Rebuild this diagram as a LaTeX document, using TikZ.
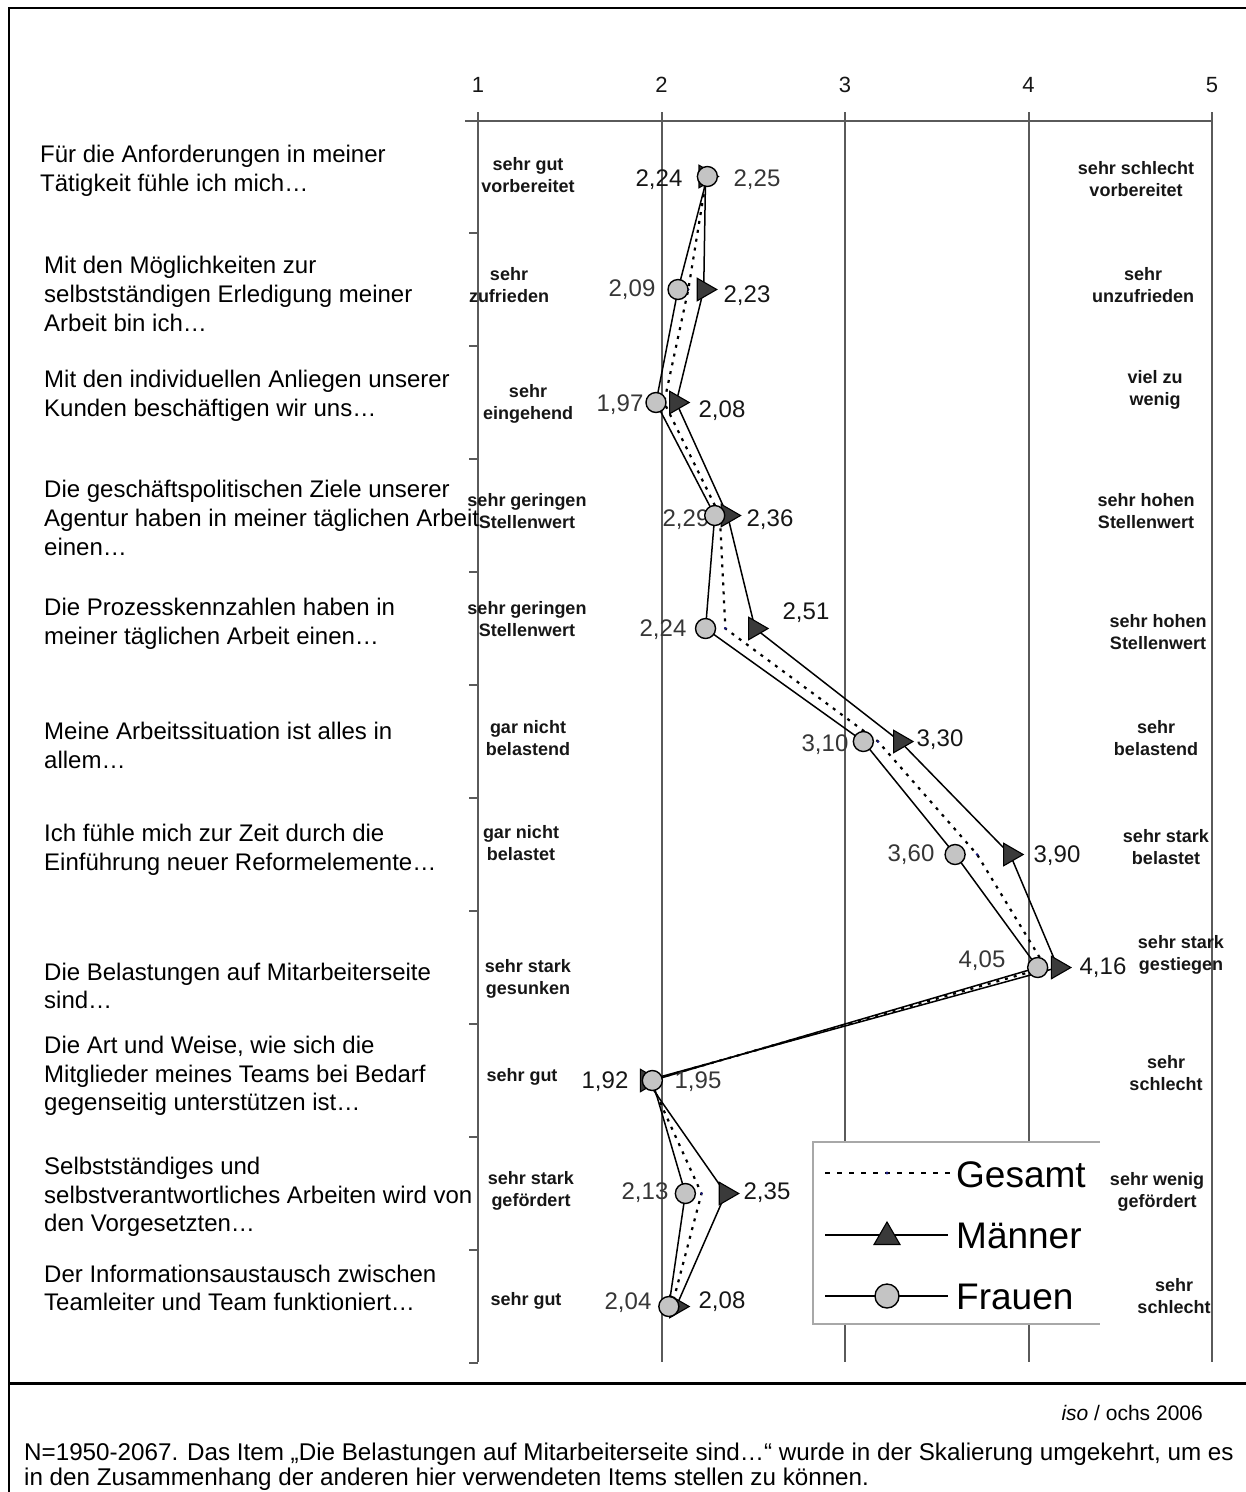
\documentclass[tikz,border=0pt]{standalone}
\usepackage{fontspec}
\setmainfont{Liberation Sans}
\usetikzlibrary{shapes.geometric}
\definecolor{gridgray}{HTML}{5A5A5A}
\definecolor{markfill}{HTML}{C4C4C4}
\definecolor{trifill}{HTML}{3A3A3A}
\definecolor{labdark}{HTML}{161616}
\definecolor{labgray}{HTML}{363636}
\definecolor{legendframe}{HTML}{A8A8A8}
\definecolor{dotblue}{HTML}{1A1A80}

\begin{document}
\begin{tikzpicture}[x=1pt,y=-1pt,
  item/.style={anchor=west, align=left, font=\fontsize{24}{28.7}\selectfont, inner sep=0pt},
  pole/.style={align=center, font=\fontsize{18}{22}\selectfont\bfseries, text=labdark, inner sep=0pt},
  mval/.style={font=\fontsize{24}{28}\selectfont, text=labdark, inner sep=0pt},
  fval/.style={font=\fontsize{24}{28}\selectfont, text=labgray, inner sep=0pt},
  axnum/.style={font=\fontsize{22}{24}\selectfont, text=labdark, inner sep=0pt},
  gridline/.style={draw=gridgray, line width=2pt},
  fline/.style={draw=black, line width=1.5pt, line join=round},
  mline/.style={draw=black, line width=1.5pt, line join=round},
  gline/.style={draw=black, line width=2.2pt, dash pattern=on 3pt off 6pt},
  legdash/.style={draw=black, line width=1.8pt, dash pattern=on 5pt off 7pt},
  fmark/.style={circle, draw=black, line width=1.4pt, fill=markfill, minimum size=20pt, inner sep=0pt},
  mmark/.style={regular polygon, regular polygon sides=3, shape border rotate=-90, draw=black,
                line width=1.1pt, fill=trifill, minimum size=26pt, inner sep=0pt},
  legtri/.style={regular polygon, regular polygon sides=3, draw=black,
                line width=1.1pt, fill=trifill, minimum size=30pt, inner sep=0pt},
  legcirc/.style={circle, draw=black, line width=1.4pt, fill=markfill, minimum size=24pt, inner sep=0pt},
  legtext/.style={anchor=west, font=\fontsize{37}{40}\selectfont, inner sep=0pt},
  foot/.style={font=\fontsize{21}{25}\selectfont, inner sep=0pt},
  note/.style={anchor=base west, font=\fontsize{24.2}{26}\selectfont, inner sep=0pt},
]
\useasboundingbox (0,0) rectangle (1246,1492);
\clip (0,0) rectangle (1246,1492);

% outer frame and footer separator
\draw[line width=2.2pt] (1260,8) -- (9,8) -- (9,1500);
\draw[line width=3pt] (9,1383) -- (1260,1383);

% scale: vertical grid lines for the values 1..5
\foreach \k in {1,...,5}{
  \draw[gridline] ({478+(\k-1)*183.5},112) -- ({478+(\k-1)*183.5},1362);
  \node[axnum] (ax\k) at ({478+(\k-1)*183.5},85) {\k};
}
\draw[gridline] (465,121) -- (1213,121);
\foreach \k in {1,...,11}{
  \draw[gridline] (469,{120+113*\k}) -- (478,{120+113*\k});
}

% data points: item / Frauen / Maenner / Gesamt
\foreach \i/\fv/\mv/\gv in {1/2.25/2.24/2.246, 2/2.09/2.23/2.146, 3/1.97/2.08/2.014,
    4/2.29/2.36/2.318, 5/2.24/2.51/2.348, 6/3.10/3.30/3.18, 7/3.60/3.90/3.72,
    8/4.05/4.16/4.094, 9/1.95/1.92/1.938, 10/2.13/2.35/2.218, 11/2.04/2.08/2.056}{
  \pgfmathsetmacro\yy{176.5+113*(\i-1)}
  \coordinate (f\i) at ({478+(\fv-1)*183.5},\yy);
  \coordinate (m\i) at ({478+(\mv-1)*183.5},\yy);
  \coordinate (g\i) at ({478+(\gv-1)*183.5},\yy);
}

% profile lines
\draw[mline] (m1) \foreach \i in {2,...,11}{ -- (m\i)};
\draw[fline] (f1) \foreach \i in {2,...,11}{ -- (f\i)};
\draw[gline] (g1) \foreach \i in {2,...,11}{ -- (g\i)};
\foreach \i in {1,...,11}{
  \fill[dotblue] (g\i) circle (1.4pt);
}

% value labels
\node[mval] (mv1) at (659,180) {2,24};   \node[fval] (fv1) at (757,180) {2,25};
\node[fval] (fv2) at (632,290) {2,09};   \node[mval] (mv2) at (747,296) {2,23};
\node[fval] (fv3) at (620,405) {1,97};   \node[mval] (mv3) at (722,411) {2,08};
\node[fval] (fv4) at (686,520) {2,29};   \node[mval] (mv4) at (770,520) {2,36};
\node[fval] (fv5) at (663,630) {2,24};   \node[mval] (mv5) at (806,613) {2,51};
\node[fval] (fv6) at (825,745) {3,10};   \node[mval] (mv6) at (940,740) {3,30};
\node[fval] (fv7) at (911,855) {3,60};   \node[mval] (mv7) at (1057,856) {3,90};
\node[fval] (fv8) at (982,961) {4,05};   \node[mval] (mv8) at (1103,968) {4,16};
\node[mval] (mv9) at (605,1082) {1,92};  \node[fval] (fv9) at (698,1082) {1,95};
\node[fval] (fv10) at (645,1193) {2,13}; \node[mval] (mv10) at (767,1193) {2,35};
\node[fval] (fv11) at (628,1303) {2,04}; \node[mval] (mv11) at (722,1302) {2,08};

% markers
\foreach \i in {1,...,11}{
  \node[mmark] (mk\i) at (m\i) {};
}
\foreach \i in {1,...,11}{
  \node[fmark] (fk\i) at (f\i) {};
}

% item texts
\node[item] (q1) at (40,171) {Für die Anforderungen in meiner\\Tätigkeit fühle ich mich…};
\node[item] (q2) at (44,294) {Mit den Möglichkeiten zur\\selbstständigen Erledigung meiner\\Arbeit bin ich…};
\node[item] (q3) at (44,395.5) {Mit den individuellen Anliegen unserer\\Kunden beschäftigen wir uns…};
\node[item] (q4) at (44,518) {Die geschäftspolitischen Ziele unserer\\Agentur haben in meiner täglichen Arbeit\\einen…};
\node[item] (q5) at (44,623.5) {Die Prozesskennzahlen haben in\\meiner täglichen Arbeit einen…};
\node[item] (q6) at (44,745.5) {Meine Arbeitssituation ist alles in\\allem…};
\node[item] (q7) at (44,849.5) {Ich fühle mich zur Zeit durch die\\Einführung neuer Reformelemente…};
\node[item] (q8) at (44,986) {Die Belastungen auf Mitarbeiterseite\\sind…};
\node[item] (q9) at (44,1076) {Die Art und Weise, wie sich die\\Mitglieder meines Teams bei Bedarf\\gegenseitig unterstützen ist…};
\node[item] (q10) at (44,1197) {Selbstständiges und\\selbstverantwortliches Arbeiten wird von\\den Vorgesetzten…};
\node[item] (q11) at (44,1288) {Der Informationsaustausch zwischen\\Teamleiter und Team funktioniert…};

% low-end scale anchors
\node[pole] (lo1) at (528,175) {sehr gut\\vorbereitet};
\node[pole] (lo2) at (509,285) {sehr\\zufrieden};
\node[pole] (lo3) at (528,404) {sehr\\eingehend};
\node[pole] (lo4) at (527,511) {sehr geringen\\Stellenwert};
\node[pole] (lo5) at (527,619) {sehr geringen\\Stellenwert};
\node[pole] (lo6) at (528,738) {gar nicht\\belastend};
\node[pole] (lo7) at (521,843) {gar nicht\\belastet};
\node[pole] (lo8) at (528,979) {sehr stark\\gesunken};
\node[pole] (lo9) at (522,1077) {sehr gut};
\node[pole] (lo10) at (531,1191) {sehr stark\\gefördert};
\node[pole] (lo11) at (526,1301) {sehr gut};

% high-end scale anchors
\node[pole] (hi1) at (1136,179) {sehr schlecht\\vorbereitet};
\node[pole] (hi2) at (1143,285) {sehr\\unzufrieden};
\node[pole] (hi3) at (1155,390) {viel zu\\wenig};
\node[pole] (hi4) at (1146,511) {sehr hohen\\Stellenwert};
\node[pole] (hi5) at (1158,632) {sehr hohen\\Stellenwert};
\node[pole] (hi6) at (1156,738) {sehr\\belastend};
\node[pole] (hi7) at (1166,847) {sehr stark\\belastet};
\node[pole] (hi8) at (1181,955) {sehr stark\\gestiegen};
\node[pole] (hi9) at (1166,1073) {sehr\\schlecht};
\node[pole] (hi10) at (1157,1192) {sehr wenig\\gefördert};
\node[pole] (hi11) at (1174,1296) {sehr\\schlecht};

% legend
\path[fill=white, draw=legendframe, line width=1.6pt] (1100,1142) -- (813,1142) -- (813,1324) -- (1100,1324);
\coordinate (lgA) at (825,1173); \coordinate (lgB) at (950,1173);
\draw[legdash] (lgA) -- (lgB);
\fill[dotblue] (887,1173) circle (1.6pt);
\node[legtext] (lgG) at (956,1175) {Gesamt};
\coordinate (lmA) at (825,1235); \coordinate (lmB) at (948,1235);
\draw[mline] (lmA) -- (lmB);
\node[legtri] (lmk) at (887,1237) {};
\node[legtext] (lgM) at (956,1236) {Männer};
\coordinate (lfA) at (825,1296); \coordinate (lfB) at (948,1296);
\draw[fline] (lfA) -- (lfB);
\node[legcirc] (lfk) at (887,1296) {};
\node[legtext] (lgF) at (956,1297) {Frauen};

% footer
\node[foot, anchor=east] (src) at (1203,1413) {\textit{iso} / ochs 2006};
\node[note] (note1) at (24,1460) {N=1950-2067. Das Item „Die Belastungen auf Mitarbeiterseite sind…“ wurde in der Skalierung umgekehrt, um es};
\node[note] (note2) at (24,1485) {in den Zusammenhang der anderen hier verwendeten Items stellen zu können.};
\end{tikzpicture}
\end{document}
